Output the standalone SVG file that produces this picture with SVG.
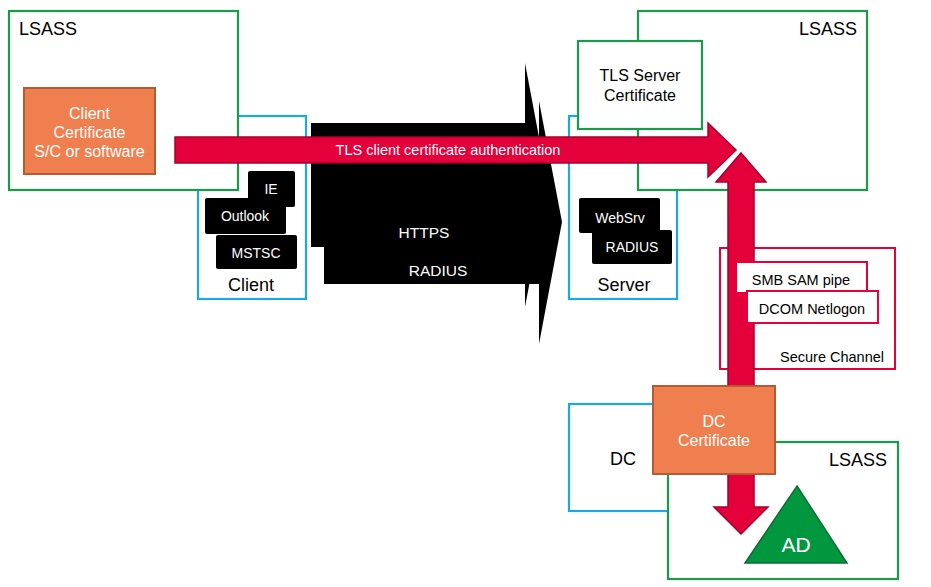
<svg xmlns="http://www.w3.org/2000/svg" width="931" height="587" viewBox="0 0 931 587">
  <style>
    text { font-family: "Liberation Sans", Arial, sans-serif; }
    .lsass { fill: #ffffff; stroke: #1a9b4b; stroke-width: 2.2; }
    .host { fill: #ffffff; stroke: #1ea6e6; stroke-width: 2.2; }
    .cert { fill: #ef7f4f; stroke: #b65a34; stroke-width: 2; }
    .app { fill: #000000; }
    .flow { fill: #e4003b; stroke: #a8002c; stroke-width: 1.5; stroke-linejoin: miter; }
    .chan { fill: #ffffff; stroke: #e4003b; stroke-width: 2; }
    .lbl { fill: #000000; font-size: 18px; }
    .wt { fill: #ffffff; }
    .mid { text-anchor: middle; }
    .end { text-anchor: end; }
  </style>

  <!-- Client machine -->
  <g id="client">
    <rect class="host" x="198" y="116" width="108" height="183"/>
    <text class="lbl mid" x="251" y="291">Client</text>
  </g>
  <g id="client-lsass">
    <rect class="lsass" x="9" y="11" width="229" height="179"/>
    <text class="lbl" x="19" y="35">LSASS</text>
  </g>
  <g id="client-certificate">
    <rect class="cert" x="24" y="88" width="131" height="86"/>
    <text class="wt mid" x="89.5" y="118.5" font-size="16">Client</text>
    <text class="wt mid" x="89.5" y="137.5" font-size="16">Certificate</text>
    <text class="wt mid" x="89.5" y="156.5" font-size="16">S/C or software</text>
  </g>
  <g id="app-ie">
    <rect class="app" x="248" y="171" width="47" height="36" rx="2"/>
    <text class="wt mid" x="271" y="194" font-size="14">IE</text>
  </g>
  <g id="app-outlook">
    <rect class="app" x="205" y="198" width="81" height="36" rx="2"/>
    <text class="wt mid" x="245" y="221" font-size="14">Outlook</text>
  </g>
  <g id="app-mstsc">
    <rect class="app" x="216" y="235" width="81" height="34" rx="2"/>
    <text class="wt mid" x="256" y="258" font-size="14">MSTSC</text>
  </g>

  <!-- Server machine -->
  <g id="server">
    <rect class="host" x="569" y="116" width="108" height="183"/>
    <text class="lbl mid" x="624" y="291">Server</text>
  </g>
  <g id="server-lsass">
    <rect class="lsass" x="638" y="11" width="229" height="179"/>
    <text class="lbl end" x="857" y="35">LSASS</text>
  </g>
  <g id="tls-server-certificate">
    <rect class="lsass" x="578" y="41" width="124" height="88"/>
    <text class="mid" x="640" y="81" font-size="16">TLS Server</text>
    <text class="mid" x="640" y="101" font-size="16">Certificate</text>
  </g>
  <g id="app-websrv">
    <rect class="app" x="579" y="198" width="81" height="35" rx="2"/>
    <text class="wt mid" x="620" y="223" font-size="14">WebSrv</text>
  </g>
  <g id="app-radius">
    <rect class="app" x="592" y="230" width="80" height="34" rx="2"/>
    <text class="wt mid" x="632" y="252" font-size="14">RADIUS</text>
  </g>

  <!-- Domain controller -->
  <g id="dc">
    <rect class="host" x="569" y="404" width="120" height="107"/>
    <text class="lbl mid" x="623" y="465">DC</text>
  </g>
  <g id="dc-lsass">
    <rect class="lsass" x="668" y="442" width="230" height="137"/>
    <text class="lbl end" x="887" y="466">LSASS</text>
  </g>
  <g id="ad">
    <polygon points="797,486 847,563 745,563" fill="#00973f" stroke="#0b6e33" stroke-width="1.5"/>
    <text class="wt mid" x="796" y="552" font-size="21">AD</text>
  </g>

  <!-- Secure channel -->
  <g id="secure-channel">
    <rect class="chan" x="720" y="248" width="175" height="121"/>
    <text class="end" x="884" y="362" font-size="14.5">Secure Channel</text>
  </g>

  <!-- Connectors -->
  <g id="connectors">
    <!-- HTTPS / RADIUS traffic -->
    <polygon class="app" points="324,160 539,160 539,101 562,222 539,344 539,284 324,284"/>
    <polygon class="app" points="311,123 525,123 525,63 548,185 525,307 525,247 311,247"/>
    <text class="wt mid" x="424" y="238" font-size="15.5">HTTPS</text>
    <text class="wt mid" x="438" y="276" font-size="15.5">RADIUS</text>

    <!-- DC secure-channel link -->
    <polygon class="flow" points="741,153 766,182 754,182 754,507 768,507 741,534 714,507 728,507 728,182 716,182"/>

    <!-- TLS client certificate authentication -->
    <polygon class="flow" points="175,137 708,137 708,123 736,150 708,177 708,163 175,163"/>
    <text class="wt mid" x="448" y="155" font-size="14.5">TLS client certificate authentication</text>
  </g>

  <g id="smb-sam-pipe">
    <rect class="chan" x="736" y="262" width="131" height="31"/>
    <text class="mid" x="801" y="285" font-size="14.5">SMB SAM pipe</text>
  </g>
  <g id="dcom-netlogon">
    <rect class="chan" x="747" y="291" width="131" height="32"/>
    <text class="mid" x="812" y="314" font-size="14.5">DCOM Netlogon</text>
  </g>

  <g id="dc-certificate">
    <rect class="cert" x="653" y="386" width="122" height="88"/>
    <text class="wt mid" x="714" y="427" font-size="16">DC</text>
    <text class="wt mid" x="714" y="446" font-size="16">Certificate</text>
  </g>
</svg>
